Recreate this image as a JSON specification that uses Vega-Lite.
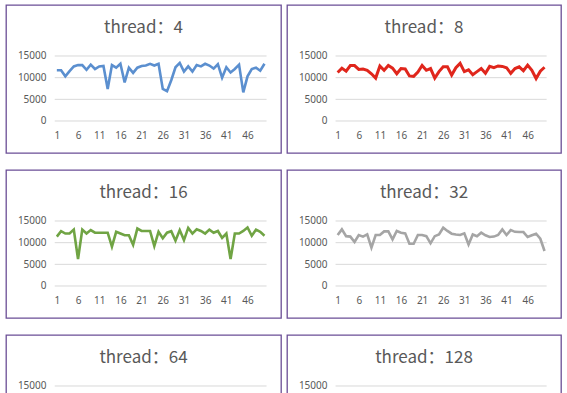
{
  "$schema": "https://vega.github.io/schema/vega-lite/v6.json",
  "padding": {"top": 4, "left": 5, "right": 0, "bottom": 0},
  "background": "white",
  "bounds": "flush",
  "columns": 2,
  "spacing": {"row": 17, "column": 6},
  "datasets": {
    "grid": [{"g": 0}, {"g": 5000}, {"g": 10000}, {"g": 15000}],
    "t4": [
      {"run":1,"tps":11700},{"run":2,"tps":11700},{"run":3,"tps":10300},{"run":4,"tps":11500},{"run":5,"tps":12600},
      {"run":6,"tps":12900},{"run":7,"tps":12900},{"run":8,"tps":11800},{"run":9,"tps":13000},{"run":10,"tps":12000},
      {"run":11,"tps":12600},{"run":12,"tps":12700},{"run":13,"tps":7400},{"run":14,"tps":12900},{"run":15,"tps":12300},
      {"run":16,"tps":13200},{"run":17,"tps":8900},{"run":18,"tps":12300},{"run":19,"tps":11100},{"run":20,"tps":12300},
      {"run":21,"tps":12700},{"run":22,"tps":12800},{"run":23,"tps":13200},{"run":24,"tps":12800},{"run":25,"tps":13200},
      {"run":26,"tps":7400},{"run":27,"tps":6900},{"run":28,"tps":9400},{"run":29,"tps":12400},{"run":30,"tps":13400},
      {"run":31,"tps":11400},{"run":32,"tps":12600},{"run":33,"tps":11400},{"run":34,"tps":12900},{"run":35,"tps":12600},
      {"run":36,"tps":13200},{"run":37,"tps":12800},{"run":38,"tps":12100},{"run":39,"tps":13100},{"run":40,"tps":10000},
      {"run":41,"tps":12400},{"run":42,"tps":11200},{"run":43,"tps":12000},{"run":44,"tps":13000},{"run":45,"tps":6600},
      {"run":46,"tps":10300},{"run":47,"tps":12000},{"run":48,"tps":12300},{"run":49,"tps":11600},{"run":50,"tps":13200}
    ],
    "t8": [
      {"run":1,"tps":11200},{"run":2,"tps":12200},{"run":3,"tps":11500},{"run":4,"tps":12800},{"run":5,"tps":12800},
      {"run":6,"tps":11900},{"run":7,"tps":12000},{"run":8,"tps":11700},{"run":9,"tps":10900},{"run":10,"tps":9900},
      {"run":11,"tps":12700},{"run":12,"tps":11700},{"run":13,"tps":12800},{"run":14,"tps":12200},{"run":15,"tps":10900},
      {"run":16,"tps":12100},{"run":17,"tps":12000},{"run":18,"tps":10400},{"run":19,"tps":10300},{"run":20,"tps":11300},
      {"run":21,"tps":12800},{"run":22,"tps":11700},{"run":23,"tps":12100},{"run":24,"tps":9900},{"run":25,"tps":11400},
      {"run":26,"tps":12500},{"run":27,"tps":12500},{"run":28,"tps":10600},{"run":29,"tps":12300},{"run":30,"tps":13300},
      {"run":31,"tps":11400},{"run":32,"tps":11800},{"run":33,"tps":10700},{"run":34,"tps":11400},{"run":35,"tps":12100},
      {"run":36,"tps":11000},{"run":37,"tps":12600},{"run":38,"tps":12300},{"run":39,"tps":12700},{"run":40,"tps":12600},
      {"run":41,"tps":12300},{"run":42,"tps":11000},{"run":43,"tps":12100},{"run":44,"tps":12500},{"run":45,"tps":11600},
      {"run":46,"tps":12900},{"run":47,"tps":11700},{"run":48,"tps":9800},{"run":49,"tps":11500},{"run":50,"tps":12400}
    ],
    "t16": [
      {"run":1,"tps":11400},{"run":2,"tps":12650},{"run":3,"tps":12100},{"run":4,"tps":12100},{"run":5,"tps":13000},
      {"run":6,"tps":6200},{"run":7,"tps":13000},{"run":8,"tps":12100},{"run":9,"tps":12900},{"run":10,"tps":12300},
      {"run":11,"tps":12300},{"run":12,"tps":12300},{"run":13,"tps":12300},{"run":14,"tps":9100},{"run":15,"tps":12500},
      {"run":16,"tps":12100},{"run":17,"tps":11700},{"run":18,"tps":11700},{"run":19,"tps":9500},{"run":20,"tps":13250},
      {"run":21,"tps":12700},{"run":22,"tps":12700},{"run":23,"tps":12700},{"run":24,"tps":9200},{"run":25,"tps":12500},
      {"run":26,"tps":11000},{"run":27,"tps":12300},{"run":28,"tps":12650},{"run":29,"tps":10450},{"run":30,"tps":12900},
      {"run":31,"tps":10600},{"run":32,"tps":13400},{"run":33,"tps":12100},{"run":34,"tps":13100},{"run":35,"tps":12700},
      {"run":36,"tps":12100},{"run":37,"tps":13000},{"run":38,"tps":12300},{"run":39,"tps":12700},{"run":40,"tps":11100},
      {"run":41,"tps":12100},{"run":42,"tps":6200},{"run":43,"tps":12100},{"run":44,"tps":12100},{"run":45,"tps":12700},
      {"run":46,"tps":13500},{"run":47,"tps":11600},{"run":48,"tps":13000},{"run":49,"tps":12500},{"run":50,"tps":11600}
    ],
    "t32": [
      {"run":1,"tps":11770},{"run":2,"tps":13070},{"run":3,"tps":11500},{"run":4,"tps":11400},{"run":5,"tps":10150},
      {"run":6,"tps":11770},{"run":7,"tps":11400},{"run":8,"tps":11900},{"run":9,"tps":8850},{"run":10,"tps":11770},
      {"run":11,"tps":11770},{"run":12,"tps":12600},{"run":13,"tps":12600},{"run":14,"tps":10750},{"run":15,"tps":12700},
      {"run":16,"tps":12300},{"run":17,"tps":12150},{"run":18,"tps":9750},{"run":19,"tps":9750},{"run":20,"tps":11770},
      {"run":21,"tps":11770},{"run":22,"tps":11500},{"run":23,"tps":9850},{"run":24,"tps":11500},{"run":25,"tps":11900},
      {"run":26,"tps":13450},{"run":27,"tps":12700},{"run":28,"tps":12070},{"run":29,"tps":11900},{"run":30,"tps":11770},
      {"run":31,"tps":12150},{"run":32,"tps":9600},{"run":33,"tps":11900},{"run":34,"tps":11500},{"run":35,"tps":12300},
      {"run":36,"tps":11700},{"run":37,"tps":11300},{"run":38,"tps":11400},{"run":39,"tps":11770},{"run":40,"tps":13070},
      {"run":41,"tps":11770},{"run":42,"tps":12900},{"run":43,"tps":12500},{"run":44,"tps":12450},{"run":45,"tps":12450},
      {"run":46,"tps":11300},{"run":47,"tps":11700},{"run":48,"tps":12070},{"run":49,"tps":10900},{"run":50,"tps":8070}
    ],
    "t64": [],
    "t128": []
  },
  "concat": [
    {
      "width": 275, "height": 148,
      "title": {"text": "thread：4"},
      "layer": [
        {"data": {"name": "grid"}, "mark": {"type": "rule", "color": "#D9D9D9", "strokeWidth": 1},
         "encoding": {
           "y": {"field": "g", "type": "quantitative", "scale": {"domain": [-7385, 26769], "nice": false, "zero": false}, "axis": {"values": [0, 5000, 10000, 15000]}},
           "x": {"datum": 0.5, "type": "quantitative", "scale": {"domain": [-11.0, 53.9], "nice": false, "zero": false}, "axis": {"values": [1, 6, 11, 16, 21, 26, 31, 36, 41, 46], "tickCount": 60, "labelOverlap": false}},
           "x2": {"datum": 50.5}}},
        {"data": {"name": "t4"}, "mark": {"type": "line", "color": "#5B8FCF", "strokeWidth": 2.6},
         "encoding": {"x": {"field": "run", "type": "quantitative"}, "y": {"field": "tps", "type": "quantitative"}}}
      ]
    },
    {
      "width": 274, "height": 148,
      "title": {"text": "thread：8"},
      "layer": [
        {"data": {"name": "grid"}, "mark": {"type": "rule", "color": "#D9D9D9", "strokeWidth": 1},
         "encoding": {
           "y": {"field": "g", "type": "quantitative", "scale": {"domain": [-7385, 26769], "nice": false, "zero": false}, "axis": {"values": [0, 5000, 10000, 15000]}},
           "x": {"datum": 0.5, "type": "quantitative", "scale": {"domain": [-11.0, 53.9], "nice": false, "zero": false}, "axis": {"values": [1, 6, 11, 16, 21, 26, 31, 36, 41, 46], "tickCount": 60, "labelOverlap": false}},
           "x2": {"datum": 50.5}}},
        {"data": {"name": "t8"}, "mark": {"type": "line", "color": "#E0261C", "strokeWidth": 3},
         "encoding": {"x": {"field": "run", "type": "quantitative"}, "y": {"field": "tps", "type": "quantitative"}}}
      ]
    },
    {
      "width": 275, "height": 148,
      "title": {"text": "thread：16"},
      "layer": [
        {"data": {"name": "grid"}, "mark": {"type": "rule", "color": "#D9D9D9", "strokeWidth": 1},
         "encoding": {
           "y": {"field": "g", "type": "quantitative", "scale": {"domain": [-7385, 26769], "nice": false, "zero": false}, "axis": {"values": [0, 5000, 10000, 15000]}},
           "x": {"datum": 0.5, "type": "quantitative", "scale": {"domain": [-11.0, 53.9], "nice": false, "zero": false}, "axis": {"values": [1, 6, 11, 16, 21, 26, 31, 36, 41, 46], "tickCount": 60, "labelOverlap": false}},
           "x2": {"datum": 50.5}}},
        {"data": {"name": "t16"}, "mark": {"type": "line", "color": "#70A444", "strokeWidth": 2.6},
         "encoding": {"x": {"field": "run", "type": "quantitative"}, "y": {"field": "tps", "type": "quantitative"}}}
      ]
    },
    {
      "width": 274, "height": 148,
      "title": {"text": "thread：32"},
      "layer": [
        {"data": {"name": "grid"}, "mark": {"type": "rule", "color": "#D9D9D9", "strokeWidth": 1},
         "encoding": {
           "y": {"field": "g", "type": "quantitative", "scale": {"domain": [-7385, 26769], "nice": false, "zero": false}, "axis": {"values": [0, 5000, 10000, 15000]}},
           "x": {"datum": 0.5, "type": "quantitative", "scale": {"domain": [-11.0, 53.9], "nice": false, "zero": false}, "axis": {"values": [1, 6, 11, 16, 21, 26, 31, 36, 41, 46], "tickCount": 60, "labelOverlap": false}},
           "x2": {"datum": 50.5}}},
        {"data": {"name": "t32"}, "mark": {"type": "line", "color": "#A5A5A5", "strokeWidth": 2.6},
         "encoding": {"x": {"field": "run", "type": "quantitative"}, "y": {"field": "tps", "type": "quantitative"}}}
      ]
    },
    {
      "width": 275, "height": 148,
      "title": {"text": "thread：64"},
      "layer": [
        {"data": {"name": "grid"}, "mark": {"type": "rule", "color": "#D9D9D9", "strokeWidth": 1},
         "encoding": {
           "y": {"field": "g", "type": "quantitative", "scale": {"domain": [-7385, 26769], "nice": false, "zero": false}, "axis": {"values": [15000]}},
           "x": {"datum": 0.5, "type": "quantitative", "scale": {"domain": [-11.0, 53.9], "nice": false, "zero": false}, "axis": {"labels": false}},
           "x2": {"datum": 50.5}}},
        {"data": {"name": "t64"}, "mark": {"type": "line", "color": "#4472C4", "strokeWidth": 2.6},
         "encoding": {"x": {"field": "run", "type": "quantitative"}, "y": {"field": "tps", "type": "quantitative"}}}
      ]
    },
    {
      "width": 274, "height": 148,
      "title": {"text": "thread：128"},
      "layer": [
        {"data": {"name": "grid"}, "mark": {"type": "rule", "color": "#D9D9D9", "strokeWidth": 1},
         "encoding": {
           "y": {"field": "g", "type": "quantitative", "scale": {"domain": [-7385, 26769], "nice": false, "zero": false}, "axis": {"values": [15000]}},
           "x": {"datum": 0.5, "type": "quantitative", "scale": {"domain": [-11.0, 53.9], "nice": false, "zero": false}, "axis": {"labels": false}},
           "x2": {"datum": 50.5}}},
        {"data": {"name": "t128"}, "mark": {"type": "line", "color": "#ED7D31", "strokeWidth": 2.6},
         "encoding": {"x": {"field": "run", "type": "quantitative"}, "y": {"field": "tps", "type": "quantitative"}}}
      ]
    }
  ],
  "config": {
    "view": {"stroke": "#6B4E96", "strokeWidth": 1.3},
    "title": {"font": "Noto Sans CJK SC", "fontSize": 17, "fontWeight": "normal", "color": "#595959", "anchor": "middle", "offset": -32, "baseline": "middle"},
    "axisY": {"offset": -47, "labelPadding": 7, "domain": false, "ticks": false, "grid": false, "title": null, "labelFont": "Noto Sans", "labelFontSize": 10, "labelColor": "#595959", "format": "d"},
    "axisX": {"offset": -32, "labelPadding": 9, "domain": false, "ticks": false, "grid": false, "title": null, "labelFont": "Noto Sans", "labelFontSize": 10, "labelColor": "#595959", "format": "d", "labelOverlap": false}
  }
}
